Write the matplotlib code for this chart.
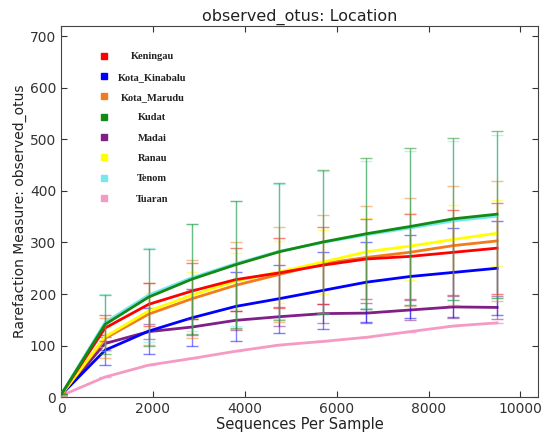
import matplotlib.pyplot as plt
from matplotlib.lines import Line2D
import numpy as np

depth = [10, 958, 1906, 2854, 3802, 4750, 5698, 6646, 7594, 8542, 9490]

locations = ['Keningau', 'Kota_Kinabalu', 'Kota_Marudu', 'Kudat',
             'Madai', 'Ranau', 'Tenom', 'Tuaran']
colors = ['#ff0000', '#0000ff', '#f27c1c', '#148a14',
          '#7f1f87', '#ffff00', '#78e6f0', '#f59ac4']

keningau      = [6, 134, 180, 206, 228, 241, 256, 268, 273, 281, 289]
kota_kinabalu = [5, 91, 128, 154, 176, 191, 207, 223, 234, 242, 250]
kota_marudu   = [5, 114, 161, 191, 217, 238, 259, 271, 281, 294, 303]
kudat         = [6, 141, 194, 229, 257, 282, 301, 317, 331, 346, 355]
madai         = [5, 104, 127, 136, 149, 156, 162, 163, 169, 175, 174]
ranau         = [5, 117, 167, 198, 225, 243, 262, 282, 293, 306, 318]
tenom         = [6, 145, 198, 232, 259, 283, 300, 315, 328, 342, 351]
tuaran        = [3, 39, 62, 75, 89, 101, 108, 116, 127, 138, 144]

keningau_sd      = [0, 25, 42, 54, 61, 68, 75, 78, 83, 83, 88]
kota_kinabalu_sd = [0, 29, 45, 55, 67, 66, 74, 78, 81, 86, 91]
kota_marudu_sd   = [0, 39, 60, 76, 84, 93, 95, 100, 105, 116, 116]
kudat_sd         = [0, 57, 94, 107, 123, 133, 140, 146, 152, 157, 162]
madai_sd         = [0, 12, 15, 16, 18, 18, 19, 20, 20, 21, 22]
ranau_sd         = [0, 20, 35, 45, 55, 60, 62, 65, 65, 66, 64]
tenom_sd         = [0, 56, 92, 104, 121, 131, 138, 143, 150, 154, 158]
tuaran_sd        = [0, 0, 0, 0, 0, 0, 0, 0, 0, 0, 0]

means = [keningau, kota_kinabalu, kota_marudu, kudat, madai, ranau, tenom, tuaran]
sds = [keningau_sd, kota_kinabalu_sd, kota_marudu_sd, kudat_sd,
       madai_sd, ranau_sd, tenom_sd, tuaran_sd]
zorders = [5, 4, 4, 6, 3, 4, 5.5, 3]

fig = plt.figure(figsize=(5.45, 4.34), dpi=100)
ax = fig.add_axes([0.112, 0.085, 0.875, 0.855])

for name, m, s, c, z in zip(locations, means, sds, colors, zorders):
    ax.errorbar(depth, m, yerr=s, color=c, lw=2, elinewidth=1, capsize=4,
                ecolor=c, zorder=z, label=name)

# error bars a bit faded, like the original
for coll in ax.collections:
    coll.set_alpha(0.5)
for ln in ax.lines:
    if ln.get_marker() not in (None, 'None', ''):
        ln.set_alpha(0.5)

ax.set_xlim(0, 10380)
ax.set_ylim(0, 720)
ax.set_xticks([0, 2000, 4000, 6000, 8000, 10000])
ax.set_yticks(range(0, 701, 100))
ax.tick_params(direction='in', top=True, right=True, labelsize=10,
               colors='#333333', length=4)
for sp in ax.spines.values():
    sp.set_color('#444444')

ax.set_title('observed_otus: Location', fontsize=11.5, color='#222222', pad=4)
ax.set_xlabel('Sequences Per Sample', fontsize=10.5, color='#222222', labelpad=1)
ax.set_ylabel('Rarefaction Measure: observed_otus', fontsize=10,
              color='#222222', labelpad=2)

handles = [Line2D([], [], ls='None', marker='s', ms=5, color=c) for c in colors]
leg = ax.legend(handles, locations, loc='upper left', frameon=False,
                bbox_to_anchor=(0.065, 0.955), labelspacing=1.06,
                handletextpad=1.1, handlelength=0.5,
                prop={'family': 'Liberation Serif', 'weight': 'bold', 'size': 7.5})

# centre the labels in their column
fig.canvas.draw()
r = fig.canvas.get_renderer()
widths = [t.get_window_extent(r).width for t in leg.get_texts()]
wmax = max(widths)
for t, w in zip(leg.get_texts(), widths):
    t.set_x((wmax - w) / 2)
    t.set_color('#222222')

fig.savefig('out.png', dpi=100)
